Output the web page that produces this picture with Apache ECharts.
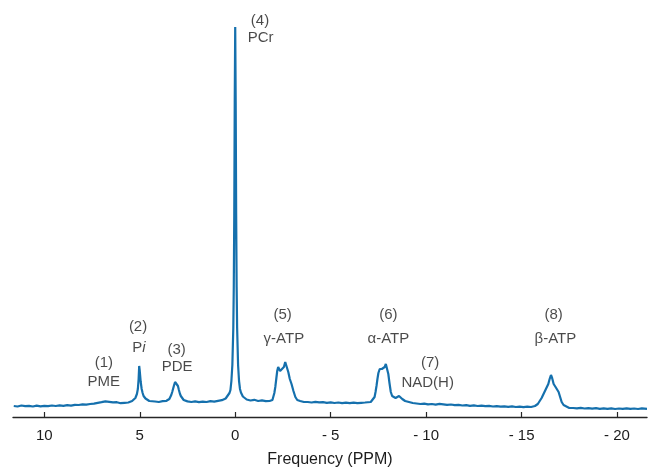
<!DOCTYPE html>
<html>
<head>
<meta charset="utf-8">
<script src="https://cdn.jsdelivr.net/npm/echarts@6/dist/echarts.min.js"></script>
<style>
  html, body { margin: 0; padding: 0; background: #fff; }
  #chart { width: 652px; height: 470px; }
</style>
</head>
<body>
<div id="chart"></div>
<script>
// 31P spectrum, [chemical shift (ppm), signal] pairs, one array per region
const baselineLowField = [
  [11.6, 11], [11.4, 10.5], [11.2, 11.5], [11.0, 10.8], [10.8, 11.2], [10.6, 10.5],
  [10.4, 11.3], [10.2, 10.7], [10.0, 11.2], [9.8, 10.8], [9.6, 11.5], [9.4, 11],
  [9.2, 11.6], [9.0, 11.2], [8.8, 11.8], [8.6, 11.4], [8.4, 12.2], [8.2, 12],
  [8.0, 12.6], [7.8, 12.3], [7.6, 13], [7.4, 13.4], [7.2, 14.2], [7.0, 14.8],
  [6.8, 15.6], [6.6, 15.2], [6.4, 14.6], [6.2, 14.8], [6.0, 13.8], [5.8, 14.2], [5.6, 14.5]
];
const piPeak = [
  [5.5, 15], [5.4, 16], [5.3, 17], [5.23, 19], [5.15, 23], [5.1, 28], [5.06, 38],
  [5.03, 51], [5.0, 46], [4.95, 35], [4.9, 28], [4.85, 24], [4.8, 21], [4.7, 18.5],
  [4.6, 17], [4.5, 16], [4.4, 15.5]
];
const baselinePiPde = [[4.2, 15.5], [4.0, 15], [3.8, 15.8], [3.6, 16.2], [3.5, 17]];
const pdePeak = [
  [3.45, 18], [3.4, 19.5], [3.35, 22], [3.3, 25], [3.25, 28.5], [3.2, 32], [3.15, 35],
  [3.11, 36], [3.05, 34.5], [3.0, 31], [2.95, 27], [2.9, 23.5], [2.85, 21], [2.8, 19],
  [2.7, 17], [2.6, 16.2], [2.5, 15.6]
];
const baselinePdePcr = [
  [2.3, 15], [2.1, 15.6], [1.9, 14.8], [1.7, 15.4], [1.5, 15], [1.3, 15.8],
  [1.1, 15.4], [0.9, 16.2], [0.7, 16.8]
];
const pcrPeak = [
  [0.6, 17.5], [0.5, 18.5], [0.4, 20], [0.3, 24], [0.25, 27], [0.2, 36], [0.15, 52],
  [0.1, 89], [0.075, 130], [0.05, 202], [0.025, 315], [0, 390], [-0.025, 315],
  [-0.05, 202], [-0.075, 130], [-0.1, 89], [-0.15, 52], [-0.2, 36], [-0.25, 28],
  [-0.3, 24.5], [-0.4, 20.5], [-0.5, 19], [-0.6, 17.5], [-0.7, 17]
];
const baselinePcrGamma = [[-0.8, 16.5], [-1.0, 17.2], [-1.2, 16], [-1.4, 16.6], [-1.6, 15.8]];
const gammaAtpPeak = [
  [-1.8, 16], [-1.95, 17], [-2.0, 19], [-2.05, 24], [-2.1, 30], [-2.15, 38], [-2.2, 46],
  [-2.25, 50], [-2.3, 49], [-2.35, 46], [-2.45, 44], [-2.55, 50], [-2.62, 55],
  [-2.7, 54], [-2.78, 45], [-2.86, 38], [-2.95, 33], [-3.05, 26], [-3.15, 20],
  [-3.25, 17], [-3.4, 16], [-3.6, 15]
];
const baselineGammaAlpha = [
  [-3.8, 15], [-4.0, 14.5], [-4.2, 15.2], [-4.4, 14.6], [-4.6, 14.9], [-4.8, 14.2],
  [-5.0, 14.6], [-5.2, 14], [-5.4, 14.5], [-5.6, 13.8], [-5.8, 14.3], [-6.0, 13.9],
  [-6.2, 14.4], [-6.4, 13.8], [-6.6, 14.2], [-6.8, 14.5]
];
const alphaAtpNadPeak = [
  [-6.9, 14], [-7.1, 15], [-7.2, 16], [-7.3, 20], [-7.35, 25], [-7.4, 31], [-7.45, 38],
  [-7.5, 44], [-7.57, 48], [-7.62, 49], [-7.68, 48], [-7.76, 46], [-7.83, 50],
  [-7.89, 53], [-7.95, 51], [-8.02, 43], [-8.08, 34], [-8.15, 25], [-8.22, 21],
  [-8.3, 19], [-8.4, 19], [-8.5, 20], [-8.58, 21], [-8.66, 20], [-8.75, 18],
  [-8.9, 16], [-9.0, 15], [-9.3, 14]
];
const baselineAlphaBeta = [
  [-9.5, 13.5], [-9.7, 13], [-9.9, 13.4], [-10.1, 12.6], [-10.3, 13], [-10.5, 12.4],
  [-10.7, 13.1], [-10.9, 12.7], [-11.1, 12.1], [-11.3, 12.5], [-11.5, 11.8],
  [-11.7, 12.2], [-11.9, 11.5], [-12.1, 11.9], [-12.3, 11.2], [-12.5, 11.6],
  [-12.7, 11], [-12.9, 11.4], [-13.1, 10.8], [-13.3, 11.1], [-13.5, 10.5],
  [-13.7, 10.9], [-13.9, 10.3], [-14.1, 10.7], [-14.3, 10.2], [-14.5, 10.6],
  [-14.7, 10], [-14.9, 10.4], [-15.1, 9.9], [-15.3, 10.3]
];
const betaAtpPeak = [
  [-15.5, 10], [-15.7, 11], [-15.85, 13], [-15.95, 15], [-16.05, 19], [-16.15, 23],
  [-16.25, 27], [-16.32, 29], [-16.4, 33], [-16.47, 38], [-16.54, 42], [-16.6, 39],
  [-16.68, 33], [-16.78, 30], [-16.86, 28], [-16.94, 25], [-17.02, 20], [-17.1, 15],
  [-17.2, 12], [-17.3, 10], [-17.5, 9]
];
const baselineHighField = [
  [-17.7, 9], [-17.9, 8.6], [-18.1, 9.1], [-18.3, 8.5], [-18.5, 8.9], [-18.7, 8.3],
  [-18.9, 8.8], [-19.1, 8.2], [-19.3, 8.7], [-19.5, 8.1], [-19.7, 8.6], [-19.9, 8],
  [-20.1, 8.5], [-20.3, 8.2], [-20.5, 8.7], [-20.7, 8.1], [-20.9, 8.5], [-21.1, 8],
  [-21.3, 8.6], [-21.57, 8.2]
];

// Peak annotations: [text, ppm, height]
const peakNumbers = [
  ['(1)', 6.88, 53.7], ['(2)', 5.09, 90.3], ['(3)', 3.07, 67], ['(4)', -1.30, 396],
  ['(5)', -2.48, 102], ['(6)', -8.02, 102], ['(7)', -10.21, 53.7], ['(8)', -16.68, 102]
];
const peakNames = [
  ['PME', 6.88, 35.3], ['Pi', 5.04, 68.7], ['PDE', 3.04, 49.7], ['PCr', -1.33, 378.7],
  ['γ-ATP', -2.55, 77.7], ['α-ATP', -8.02, 77.7], ['NAD(H)', -10.08, 33.7], ['β-ATP', -16.77, 77.7]
];

const xTicks = [10, 5, 0, -5, -10, -15, -20];

const spectrum = [].concat(
  baselineLowField, piPeak, baselinePiPde, pdePeak, baselinePdePcr, pcrPeak,
  baselinePcrGamma, gammaAtpPeak, baselineGammaAlpha, alphaAtpNadPeak,
  baselineAlphaBeta, betaAtpPeak, baselineHighField
).sort((a, b) => b[0] - a[0]);

const textFont = 'Liberation Sans, Arial, sans-serif';
const textColor = '#1c1c1c';

const annotationData = peakNumbers.concat(peakNames).map(([text, ppm, h]) => ({
  value: [ppm, h],
  name: text
}));

const chart = echarts.init(document.getElementById('chart'), null, { renderer: 'canvas' });
chart.setOption({
  animation: false,
  grid: { left: 13, right: 5, top: 17, bottom: 53, outerBoundsMode: 'none' },
  xAxis: {
    type: 'value',
    min: -21.57,
    max: 11.64,
    inverse: true,
    name: 'Frequency (PPM)',
    nameLocation: 'middle',
    nameGap: 35,
    nameTextStyle: { fontFamily: textFont, fontSize: 16, color: textColor },
    axisLine: { show: true, onZero: false, lineStyle: { color: '#262626', width: 1.4 } },
    axisTick: { show: true, inside: true, length: 5, customValues: xTicks,
                lineStyle: { color: '#262626', width: 1.2 } },
    axisLabel: {
      customValues: xTicks,
      margin: 11,
      fontFamily: textFont,
      fontSize: 15,
      color: textColor,
      formatter: v => (v < 0 ? '- ' + Math.abs(v) : String(v))
    },
    splitLine: { show: false }
  },
  yAxis: {
    type: 'value',
    min: 0,
    max: 400,
    show: false,
    splitLine: { show: false }
  },
  series: [
    {
      type: 'line',
      data: spectrum,
      showSymbol: false,
      smooth: false,
      lineStyle: { color: '#1570ad', width: 2.2 },
      z: 2
    },
    {
      type: 'scatter',
      data: annotationData,
      symbolSize: 0,
      silent: true,
      z: 3,
      label: {
        show: true,
        position: 'inside',
        fontFamily: textFont,
        fontSize: 15,
        color: textColor,
        formatter: p => (p.name === 'Pi' ? '{n|P}{it|i}' : p.name),
        rich: {
          n: { fontFamily: textFont, fontSize: 15, color: textColor },
          it: { fontFamily: textFont, fontSize: 15, color: textColor, fontStyle: 'italic' }
        }
      }
    }
  ]
});
</script>
</body>
</html>
